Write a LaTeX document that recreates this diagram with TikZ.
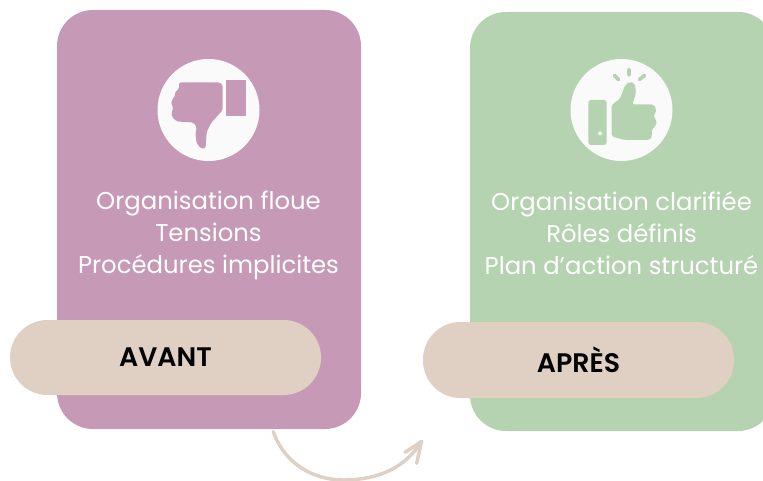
\documentclass[tikz,border=0pt]{standalone}
\usepackage{fontspec}
\setmainfont{Poppins}
\newfontfamily\semifont{Poppins SemiBold}
\definecolor{cardpurple}{HTML}{C69AB6}
\definecolor{cardgreen}{HTML}{B5D3B0}
\definecolor{beige}{HTML}{DFD0C3}
\definecolor{iconwhite}{HTML}{FAFAFA}
\tikzset{
  cardtext/.style={text=white,font=\fontsize{18.25}{24}\selectfont,align=center,inner sep=0pt},
  pilltext/.style={text=black,font=\fontsize{20.1}{22}\selectfont\semifont,inner sep=0pt},
  flow/.style={draw=beige,line width=2.6pt,line cap=round,line join=round}
}
\begin{document}
\begin{tikzpicture}[x=0.75pt,y=-0.75pt]
\useasboundingbox (0,0) rectangle (763,481);
\begin{scope}
\clip (0,0) rectangle (763,481);
% cards
\fill[cardpurple,rounded corners=27pt] (57,10) rectangle (361,429);
\fill[cardgreen,rounded corners=27pt] (470,12) rectangle (774,431);
% icon discs
\fill[iconwhite] (208.5,110) circle (51);
\fill[iconwhite] (621.5,110) circle (51);
% thumb down
\fill[cardpurple] (226.3,80) rectangle (246,115.7);
\fill[cardpurple,rounded corners=1.2pt]
  (179,82.5) -- (220,82.5) -- (222.7,85) -- (222.7,110) -- (218.3,115)
  -- (211,123) -- (206.7,132) -- (205.5,148.5) -- (201,148.5) -- (196.5,143)
  -- (195.5,134) -- (196.7,127) -- (193.3,122.5) -- (177,121.5) -- (172,117)
  -- (171.5,112) -- (173.5,108) -- (171,104) -- (172.5,98.5) -- (175.5,96)
  -- (174.5,92.5) -- (179,89) -- cycle;
% thumb up
\fill[cardgreen,rounded corners=2pt] (588.3,100) rectangle (606.7,145);
\fill[iconwhite] (600,133.3) circle (2);
\fill[cardgreen,rounded corners=1.5pt]
  (611.7,105) -- (620,98.5) -- (625,85.5) -- (630,81.5) -- (635,84) -- (636,93)
  -- (632.3,104.5) -- (653.5,104.5) -- (656,108) -- (656,113) -- (653,116)
  -- (656.5,120) -- (656,126) -- (651,130) -- (652.5,135) -- (650,140)
  -- (625,140) -- (611.7,136.5) -- cycle;
\draw[cardgreen,line width=2.8pt,line cap=round]
  (629,69.5) -- (629,75) (614.5,75.5) -- (618.5,79.5) (644.5,75.5) -- (639.5,79.5);
% pills
\fill[beige,rounded corners=28.1pt] (10,320) rectangle (321,395);
\fill[beige,rounded corners=28.1pt] (423,322) rectangle (734,398);
\end{scope}
% texts
\node[cardtext] (avanttext) at (208.5,235.3) {Organisation floue\\Tensions\\Procédures implicites};
\node[cardtext] (aprestext) at (621.5,233.5) {Organisation clarifiée\\Rôles définis\\Plan d’action structuré};
\node[pilltext] (avant) at (165.5,357) {AVANT};
\node[pilltext] (apres) at (578.5,359.5) {APRÈS};
% arrow
\coordinate (from) at (273.3,431.7);
\coordinate (to) at (421.5,441.5);
\coordinate (barba) at (405,452.3);
\coordinate (barbb) at (416.7,463.3);
\draw[flow] (from) .. controls (285,465) and (315,480) .. (343,480) .. controls (378,480) and (405,468) .. (to);
\draw[flow] (barba) -- (to) -- (barbb);
\end{tikzpicture}
\end{document}
